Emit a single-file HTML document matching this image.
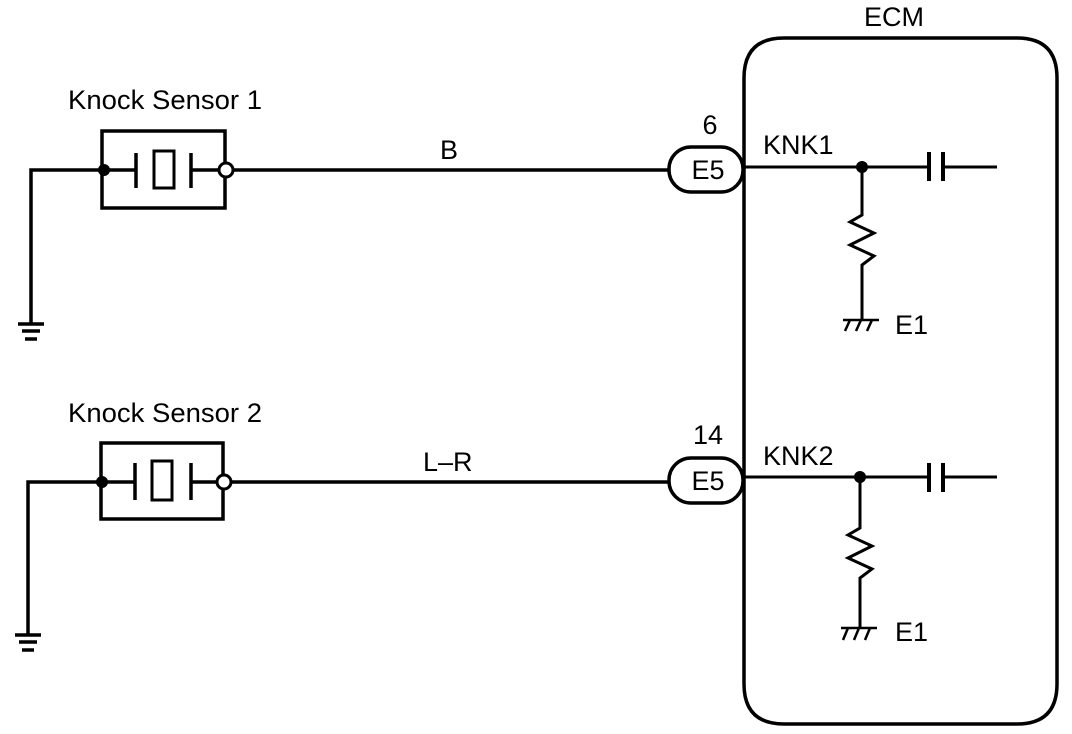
<!DOCTYPE html>
<html><head><style>
html,body{margin:0;padding:0;background:#fff;}
svg{display:block;}
text{font-family:"Liberation Sans",sans-serif;fill:#000;}
</style></head><body>
<svg width="1072" height="734" viewBox="0 0 1072 734" xmlns="http://www.w3.org/2000/svg">
<g stroke="#000" fill="none" stroke-width="3.5">
<path d="M784,38 H1017 Q1057,38 1057,78 V684 Q1057,724 1017,724 H784 Q744,724 744,684 V78 Q744,38 784,38 Z"/>
</g>
<text x="864" y="26" font-size="27">ECM</text>

<g stroke="#000" fill="none" stroke-width="3.5">
<rect x="102" y="131" width="123" height="77"/>
<path d="M31,325 V170 H136"/>
<path d="M136,153 V188 M191,153 V188"/>
<rect x="154" y="151" width="20" height="37" stroke-width="3"/>
<path d="M191,170 H219"/>
<path d="M233,170 H669"/>
<path d="M18,324 H44 M22,331 H40 M25,339 H37"/>
</g>
<circle cx="104" cy="170" r="6" fill="#000"/>
<circle cx="226" cy="170" r="7" fill="#fff" stroke="#000" stroke-width="3"/>
<text x="68" y="109" font-size="27" textLength="194" lengthAdjust="spacingAndGlyphs">Knock Sensor 1</text>
<text x="440" y="159" font-size="27">B</text>

<g stroke="#000" fill="none" stroke-width="3.5">
<rect x="101" y="443" width="122" height="76"/>
<path d="M28,636 V482 H134"/>
<path d="M135,463 V500 M191,463 V500"/>
<rect x="152" y="461" width="20" height="39" stroke-width="3"/>
<path d="M191,482 H217"/>
<path d="M231,482 H669"/>
<path d="M15,635 H41 M19,642 H37 M22,650 H34"/>
</g>
<circle cx="102" cy="482" r="6" fill="#000"/>
<circle cx="224" cy="482" r="7" fill="#fff" stroke="#000" stroke-width="3"/>
<text x="68" y="422" font-size="27" textLength="194" lengthAdjust="spacingAndGlyphs">Knock Sensor 2</text>
<text x="423" y="471" font-size="27">L–R</text>

<g stroke="#000" fill="none" stroke-width="3.5">
<rect x="669" y="147" width="74" height="45" rx="22"/>
<rect x="669" y="458" width="74" height="45" rx="22"/>
</g>
<text x="708" y="179" font-size="27" text-anchor="middle">E5</text>
<text x="708" y="490" font-size="27" text-anchor="middle">E5</text>
<text x="710" y="134" font-size="27" text-anchor="middle">6</text>
<text x="708" y="444" font-size="27" text-anchor="middle">14</text>

<g stroke="#000" fill="none" stroke-width="3">
<path d="M744,167 H929 M943,167 H997"/>
<path d="M929,152 V181 M943,152 V181" stroke-width="4"/>
<path d="M862,167 V215 L850,222 L874,233 L850,245 L874,256 L862,265 V320"/>
<path d="M843,320 H879 M850,320 L845,331 M861,320 L856,331 M872,320 L867,331" stroke-width="2.5"/>
</g>
<circle cx="862" cy="167" r="6" fill="#000"/>
<text x="763" y="154" font-size="27">KNK1</text>
<text x="895" y="334" font-size="27">E1</text>

<g stroke="#000" fill="none" stroke-width="3">
<path d="M744,477 H929 M943,477 H997"/>
<path d="M929,463 V492 M943,463 V492" stroke-width="4"/>
<path d="M860,477 V528 L848,535 L872,546 L848,558 L872,569 L860,578 V628"/>
<path d="M841,628 H877 M848,628 L843,640 M859,628 L854,640 M870,628 L865,640" stroke-width="2.5"/>
</g>
<circle cx="860" cy="477" r="6" fill="#000"/>
<text x="763" y="465" font-size="27">KNK2</text>
<text x="895" y="641" font-size="27">E1</text>
</svg>
</body></html>
